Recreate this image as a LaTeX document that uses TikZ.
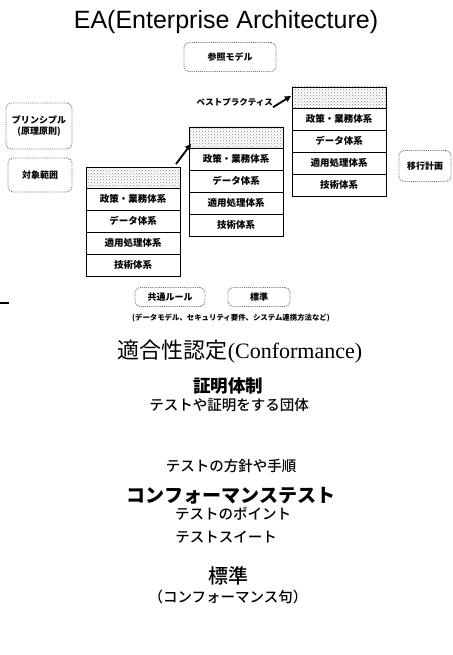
\documentclass[tikz,border=0pt]{standalone}
\usepackage{fontspec}
\setmainfont{Liberation Sans}
\newfontfamily\jp{Noto Sans CJK JP}
\newfontfamily\jpm{Noto Sans CJK JP Medium}
\newfontfamily\serif{Liberation Serif}
\usetikzlibrary{arrows.meta,patterns}
\begin{document}
\begin{tikzpicture}[x=1pt,y=-1pt,
  stackrow/.style={draw,line width=0.9pt,minimum width=94pt,minimum height=22pt,inner sep=0pt,outer sep=0pt,font=\jp\bfseries\fontsize{9.5}{10}\selectfont,anchor=north},
  stackhdr/.style={draw,line width=0.9pt,minimum width=94pt,minimum height=21pt,inner sep=0pt,outer sep=0pt,fill=black!10,pattern=crosshatch dots,pattern color=black!45,anchor=north west},
  fuzzy/.style={draw=black!55,densely dotted,line width=0.9pt,rounded corners=5pt,inner sep=2pt,font=\jp\bfseries\fontsize{9}{10}\selectfont},
  fatarrow/.style={line width=1.8pt,-{Triangle[length=6pt,width=6pt]}},
  body/.style={font=\jpm\fontsize{14.5}{16}\selectfont}
]
\useasboundingbox (0,0) rectangle (452,655);
\fill[white] (0,0) rectangle (452,655);

\node (title) at (226,22) {\fontsize{25}{28}\selectfont EA(Enterprise Architecture)};

\node[fuzzy,minimum width=92pt,minimum height=29pt] (ref) at (230,57) {参照モデル};

% stacks
\foreach \s/\x/\y in {L/86/167, M/189/127, R/292/87}{
  \node[stackhdr] (\s0) at (\x,\y) {};
  \node[stackrow] (\s1) at (\s0.south) {政策・業務体系};
  \node[stackrow] (\s2) at (\s1.south) {データ体系};
  \node[stackrow] (\s3) at (\s2.south) {適用処理体系};
  \node[stackrow] (\s4) at (\s3.south) {技術体系};
}

\node[font=\jp\bfseries\fontsize{8.5}{9}\selectfont,anchor=east,inner sep=0pt] (bp) at (273,102) {ベストプラクティス};
\coordinate (a1s) at ([shift={(-4,-3)}]L0.north east);
\coordinate (a1e) at ([shift={(2,-4)}]M0.south west);
\draw[fatarrow] (a1s) -- (a1e);
\coordinate (a2s) at ([shift={(0,1)}]bp.south east);
\coordinate (a2e) at ([shift={(-1,-12)}]R0.south west);
\draw[fatarrow] (a2s) -- (a2e);

\node[fuzzy,minimum width=66pt,minimum height=46pt,align=center] (pr) at (39,126) {プリンシプル\\[1pt](原理原則)};
\node[fuzzy,minimum width=64pt,minimum height=34pt] (scope) at (40,175) {対象範囲};
\node[fuzzy,minimum width=52pt,minimum height=31pt] (mig) at (425,166) {移行計画};

\node[fuzzy,minimum width=70pt,minimum height=19pt] (rule) at (170,297) {共通ルール};
\node[fuzzy,minimum width=62pt,minimum height=19pt] (std) at (259,297) {標準};
\node[font=\jp\bfseries\fontsize{7.4}{8}\selectfont] (eg) at (231,318) {(データモデル、セキュリティ要件、システム連携方法など)};

\draw[line width=2pt] (0,303) -- (9,303);

\node (conf) at (240,352) {\jp\fontsize{22}{24}\selectfont 適合性認定\serif(Conformance)};
\node[font=\jp\bfseries\fontsize{17.5}{19}\selectfont] (cert) at (228,386) {証明体制};
\node[body] (certd) at (229,405) {テストや証明をする団体};
\node[body] (pol) at (231,466) {テストの方針や手順};
\node[font=\jp\bfseries\fontsize{19}{20}\selectfont] (ct) at (231,496) {コンフォーマンステスト};
\node[body] (pt) at (233,514) {テストのポイント};
\node[body] (suite) at (226,537) {テストスイート};
\node[font=\jpm\fontsize{20}{22}\selectfont] (stdb) at (228,576) {標準};
\node[body] (clause) at (228,597) {（コンフォーマンス句）};
\end{tikzpicture}
\end{document}
